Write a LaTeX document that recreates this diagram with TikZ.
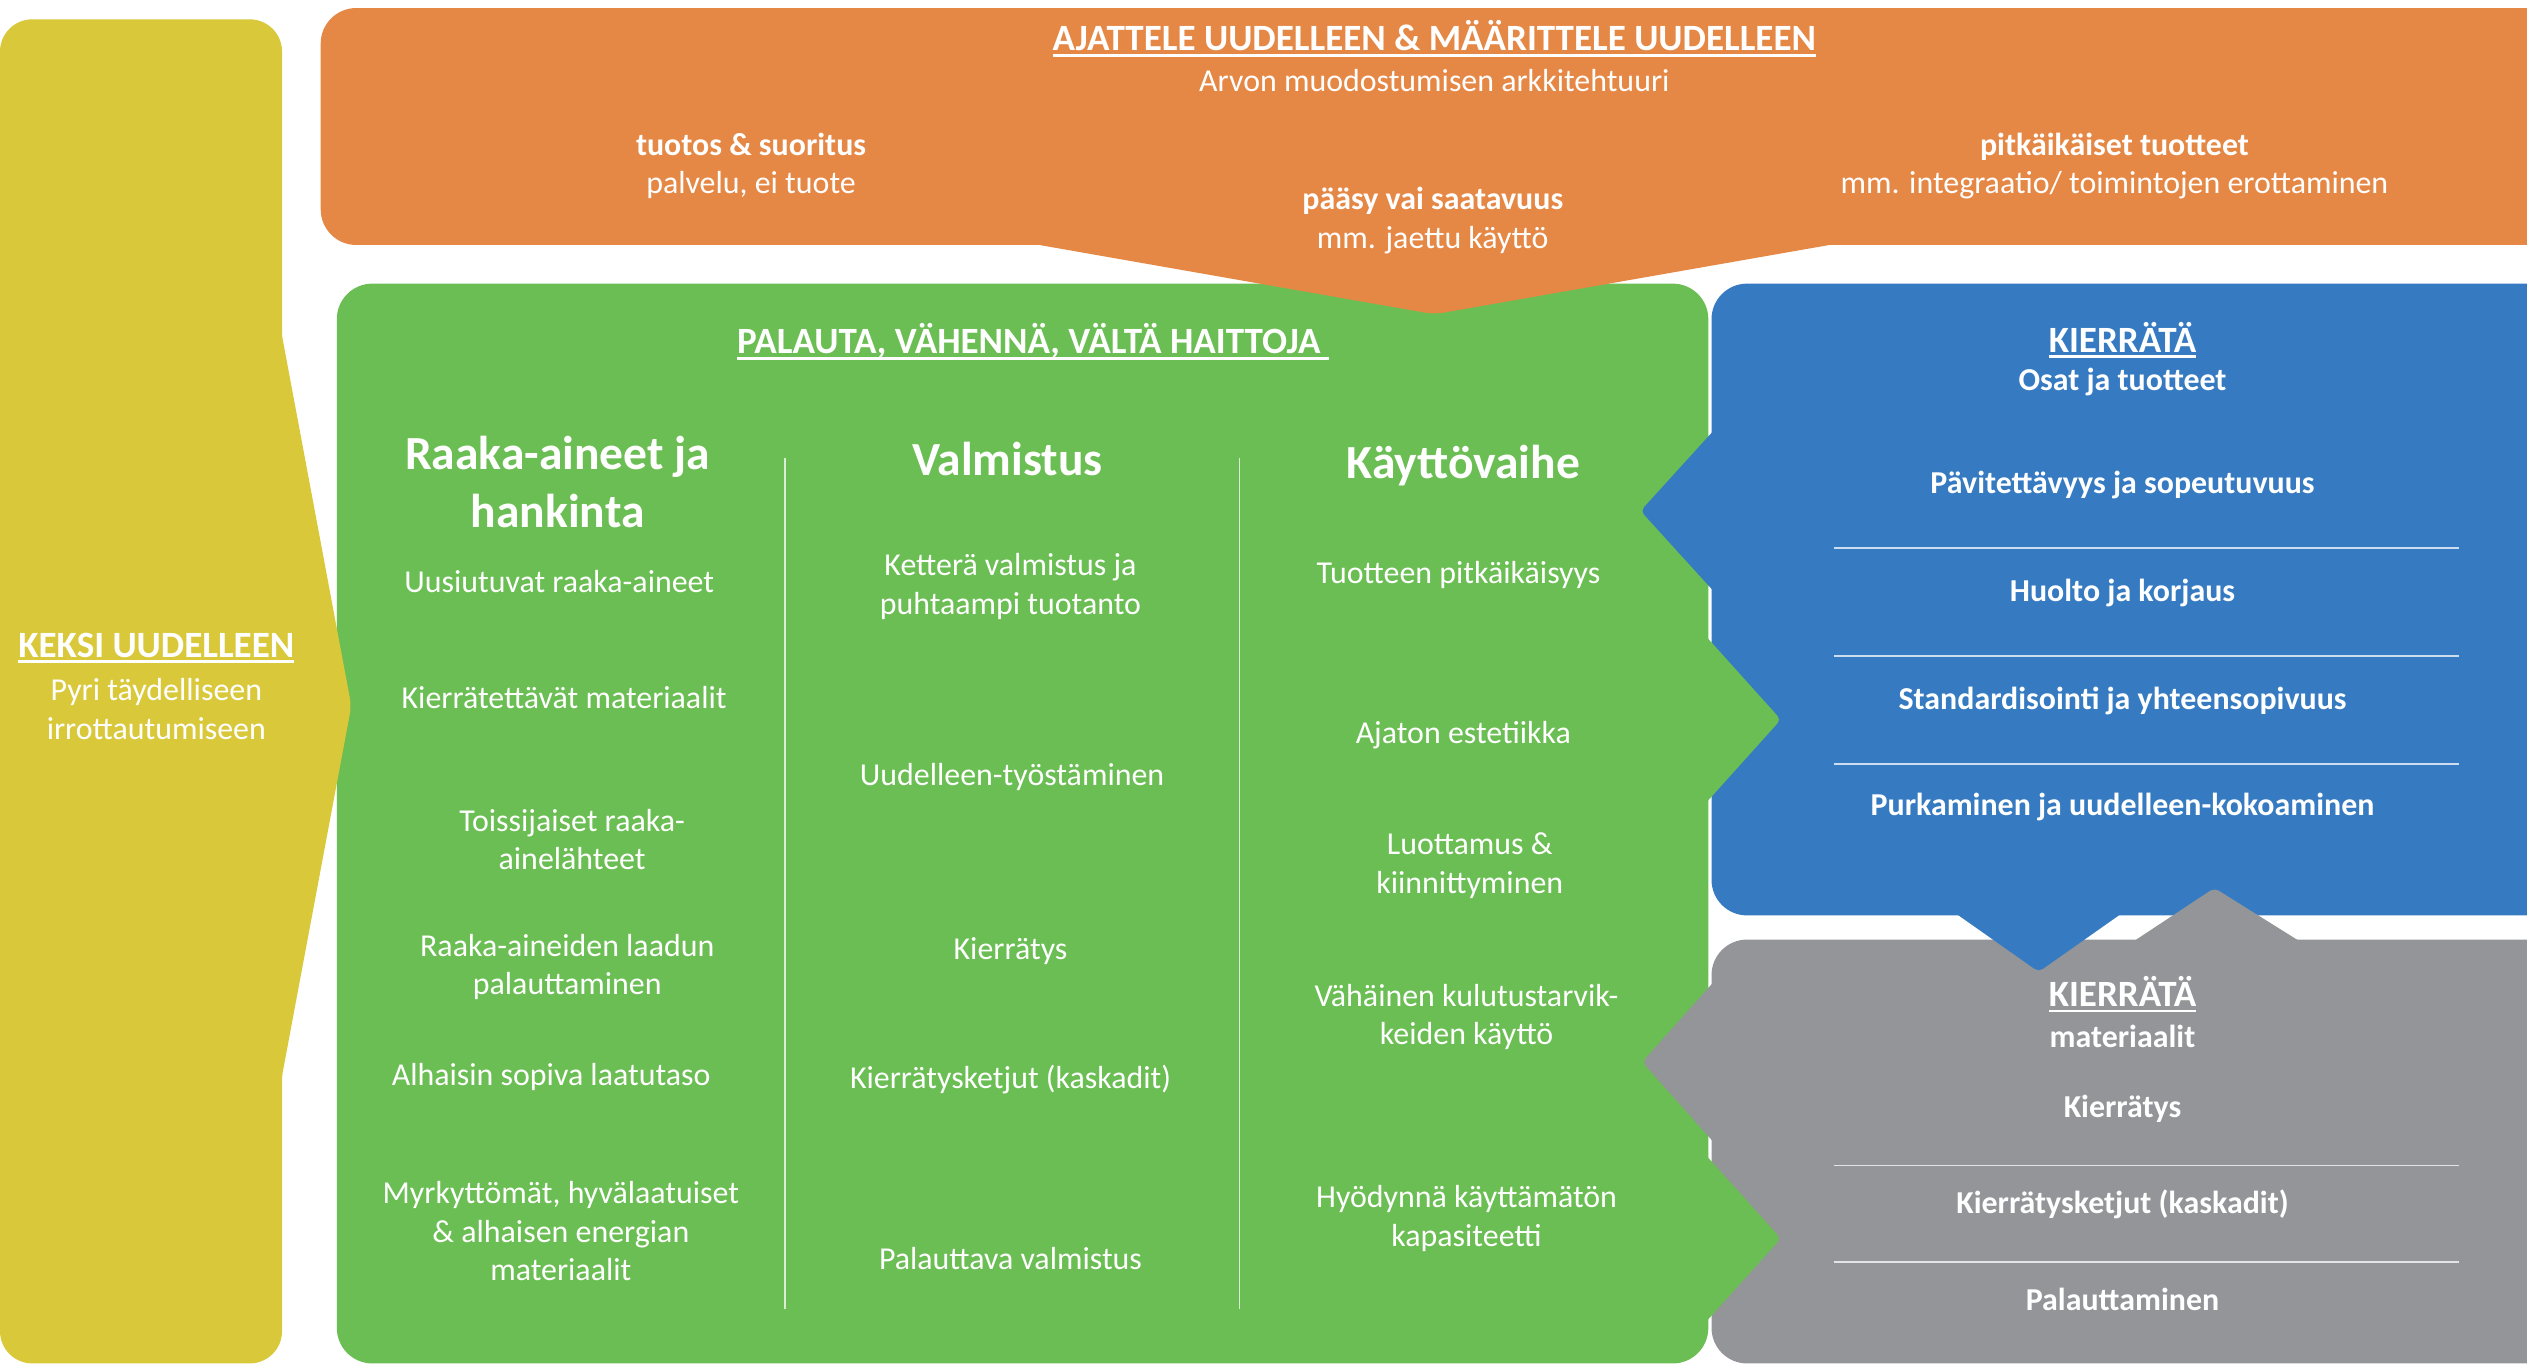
\documentclass[tikz,border=0pt]{standalone}
\usepackage{fontspec}
\setmainfont{Carlito}
\newcommand{\uln}[1]{\setbox0\hbox{#1}\leavevmode\rlap{\rule[-3.5pt]{\wd0}{1.6pt}}\box0}
\definecolor{orangec}{RGB}{230,136,69}
\definecolor{yellowc}{RGB}{218,200,59}
\definecolor{greenc}{RGB}{107,190,83}
\definecolor{bluec}{RGB}{54,123,193}
\definecolor{grayc}{RGB}{147,149,152}

\begin{document}
\begin{tikzpicture}[x=1pt,y=-1pt,
  item/.style={text=white, align=center, font=\fontsize{19.8}{24}\selectfont},
  bolditem/.style={item, font=\fontsize{19.8}{24}\selectfont\bfseries},
  colhead/.style={item, font=\fontsize{29.5}{36}\selectfont\bfseries},
  bigtitle/.style={item, font=\fontsize{23}{26}\selectfont\bfseries},
  sepline/.style={white, opacity=0.75, line width=0.8pt}]
\useasboundingbox (0,0) rectangle (1568,848);
\clip (0,0) rectangle (1568,848);
% blocks
\fill[greenc, rounded corners=22] (209,176) rectangle (1060,846);
\fill[bluec, rounded corners=22] (1062,176) rectangle (1620,568);
\fill[grayc, rounded corners=22] (1062,583) rectangle (1620,846);
% arrows between the blocks
\foreach \a/\b in {392/501,714/823} {
  \fill[greenc, rounded corners=3] (1056,\a) -- (1105,{(\a+\b)/2}) -- (1056,\b) -- cycle;
}
\fill[bluec, rounded corners=3] (1068,262) -- (1018,317) -- (1068,372) -- cycle;
\fill[grayc, rounded corners=3] (1068,604) -- (1019,659) -- (1068,714) -- cycle;
\fill[bluec, rounded corners=3] (1211,565) -- (1265,603) -- (1319,565) -- cycle;
\fill[grayc, rounded corners=3] (1321,586) -- (1374,551) -- (1430,586) -- cycle;
\fill[orangec, rounded corners=22] (199,5) rectangle (1620,152);
\fill[orangec, rounded corners=6] (622,148) -- (890,195) -- (1158,148) -- cycle;
\fill[yellowc, rounded corners=20] (0,12) rectangle (175,846);
\fill[yellowc, rounded corners=5] (171,187) -- (218,438) -- (171,689) -- cycle;
% separators
\draw[sepline] (487,284) -- (487,812);
\draw[sepline] (769,284) -- (769,812);
\foreach \y in {340,407,474} \draw[sepline] (1138,\y) -- (1526,\y);
\foreach \y in {723,783} \draw[sepline] (1138,\y) -- (1526,\y);

% rethink
\node[bigtitle] (rethink) at (890,24) {\uln{AJATTELE UUDELLEEN \& MÄÄRITTELE UUDELLEEN}};
\node[item] (rethinksub) at (890,50) {Arvon muodostumisen arkkitehtuuri};
\node[item] (tuotos) at (466,103) {\textbf{tuotos \& suoritus}\\palvelu, ei tuote};
\node[item] (paasy) at (889,137) {\textbf{pääsy vai saatavuus}\\mm. jaettu käyttö};
\node[item] (pitka) at (1312,103) {\textbf{pitkäikäiset tuotteet}\\mm. integraatio/ toimintojen erottaminen};

% reinvent
\node[bigtitle] (keksi) at (97,402) {\uln{KEKSI UUDELLEEN}};
\node[item] (keksisub) at (97,440) {Pyri täydelliseen\\irrottautumiseen};

% restore, reduce, avoid
\node[bigtitle] (palauta) at (641,212) {\uln{PALAUTA, VÄHENNÄ, VÄLTÄ HAITTOJA\ }};
\node[colhead] (rawhead) at (346,299) {Raaka-aineet ja\\hankinta};
\node[colhead] (makehead) at (625,285) {Valmistus};
\node[colhead] (usehead) at (908,289) {Käyttövaihe};
\foreach \x/\y/\t [count=\i] in {347/361/{Uusiutuvat raaka-aineet},
    350/433/{Kierrätettävät materiaalit},
    355/521/{Toissijaiset raaka-\\ainelähteet},
    352/600/{Raaka-aineiden laadun\\palauttaminen},
    342/668/{Alhaisin sopiva laatutaso},
    348/764/{Myrkyttömät, hyvälaatuiset\\\& alhaisen energian\\materiaalit}} {
  \node[item] (raw\i) at (\x,\y) {\t};
}
\foreach \x/\y/\t [count=\i] in {627/364/{Ketterä valmistus ja\\puhtaampi tuotanto},
    628/482/{Uudelleen-työstäminen},
    627/590/{Kierrätys},
    627/670/{Kierrätysketjut (kaskadit)},
    627/781/{Palauttava valmistus}} {
  \node[item] (make\i) at (\x,\y) {\t};
}
\foreach \x/\y/\t [count=\i] in {905/357/{Tuotteen pitkäikäisyys},
    908/456/{Ajaton estetiikka},
    912/537/{Luottamus \&\\kiinnittyminen},
    910/631/{Vähäinen kulutustarvik-\\keiden käyttö},
    910/756/{Hyödynnä käyttämätön\\kapasiteetti}} {
  \node[item] (use\i) at (\x,\y) {\t};
}

% recycle parts and products
\node[bigtitle] (parts) at (1317,211) {\uln{KIERRÄTÄ}};
\node[bolditem] (partssub) at (1317,237) {Osat ja tuotteet};
\foreach \y/\t [count=\i] in {301/{Pävitettävyys ja sopeutuvuus},
    368/{Huolto ja korjaus},
    435/{Standardisointi ja yhteensopivuus},
    501/{Purkaminen ja uudelleen-kokoaminen}} {
  \node[bolditem] (part\i) at (1317,\y) {\t};
}

% recycle materials
\node[bigtitle] (mats) at (1317,617) {\uln{KIERRÄTÄ}};
\node[bolditem] (matssub) at (1317,643) {materiaalit};
\foreach \y/\t [count=\i] in {688/{Kierrätys},
    747/{Kierrätysketjut (kaskadit)},
    806/{Palauttaminen}} {
  \node[bolditem] (mat\i) at (1317,\y) {\t};
}
\end{tikzpicture}
\end{document}
